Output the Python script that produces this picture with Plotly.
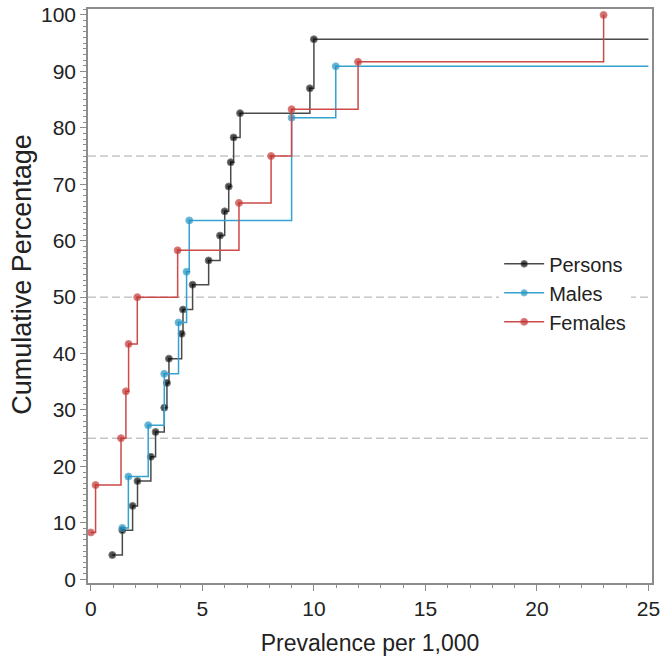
import plotly.graph_objects as go

# ---- data ----
persons_x = [0.96, 1.41, 1.87, 2.09, 2.69, 2.90, 3.29, 3.41, 3.50, 4.07, 4.13,
             4.56, 5.28, 5.79, 6.00, 6.18, 6.27, 6.40, 6.69, 9.82, 10.0]
persons_y = [4.3, 8.7, 13.0, 17.4, 21.7, 26.1, 30.4, 34.8, 39.1, 43.5, 47.8,
             52.2, 56.5, 60.9, 65.2, 69.6, 73.9, 78.3, 82.6, 87.0, 95.7]

males_x = [1.41, 1.68, 2.57, 3.29, 3.93, 4.29, 4.41, 9.0, 10.98]
males_y = [9.1, 18.2, 27.3, 36.4, 45.5, 54.5, 63.6, 81.8, 90.9]

females_x = [0.0, 0.21, 1.35, 1.57, 1.69, 2.08, 3.89, 6.64, 8.08, 9.0, 11.98, 22.99]
females_y = [8.3, 16.7, 25.0, 33.3, 41.7, 50.0, 58.3, 66.7, 75.0, 83.3, 91.7, 100.0]

x_end = 25          # persons/males step lines continue to the axis end
ref_lines = [25, 50, 75]
x_ticks = [0, 5, 10, 15, 20, 25]
y_ticks = [0, 10, 20, 30, 40, 50, 60, 70, 80, 90, 100]

FONT = "Liberation Sans, Arial, sans-serif"

fig = go.Figure()

def step_trace(name, xs, ys, line_color, marker_color, extend):
    x = list(xs)
    y = list(ys)
    sizes = [7] * len(x)
    if extend:
        x.append(x_end)
        y.append(ys[-1])
        sizes.append(0)
    return go.Scatter(
        x=x, y=y, name=name, mode="lines+markers",
        line=dict(shape="hv", color=line_color, width=1.5),
        marker=dict(size=sizes, color=marker_color),
    )

fig.add_trace(step_trace("Persons", persons_x, persons_y, "#4a4a4a", "#000000", True))
fig.add_trace(step_trace("Males", males_x, males_y, "#35a2d0", "#1e90c0", True))
fig.add_trace(step_trace("Females", females_x, females_y, "#cc4a48", "#c0302e", False))

for r in ref_lines:
    fig.add_shape(type="line", xref="paper", x0=0, x1=1, yref="y", y0=r, y1=r,
                  line=dict(color="#a8a8a8", width=1, dash="8px,4px"), layer="below")

axis_common = dict(
    showline=True, linecolor="#8c8c8c", linewidth=1.5, mirror=True,
    showgrid=False, zeroline=False, automargin=False,
    ticks="outside", ticklen=6, tickcolor="#8c8c8c", tickwidth=1,
    tickfont=dict(family=FONT, size=21, color="#222222"),
    ticklabeloverflow="allow",
)

fig.update_xaxes(
    range=[-0.13, 25.16], tickvals=x_ticks,
    minor=dict(dtick=1, ticks="outside", ticklen=3, tickcolor="#8c8c8c"),
    title=dict(text="Prevalence per 1,000", font=dict(family=FONT, size=23, color="#222222"),
               standoff=16),
    **axis_common,
)
fig.update_yaxes(
    range=[-0.66, 101.06], tickvals=y_ticks,
    minor=dict(dtick=1, ticks="outside", ticklen=3, tickcolor="#8c8c8c"),
    **axis_common,
)

# y-axis title placed as in the reference (slightly above the axis centre)
fig.add_annotation(text="Cumulative Percentage", textangle=-90,
                   xref="paper", yref="paper", x=0, y=0.537,
                   xanchor="center", yanchor="middle", xshift=-66,
                   showarrow=False,
                   font=dict(family=FONT, size=27, color="#222222"))

fig.update_layout(
    width=660, height=663,
    margin=dict(l=88, r=8, t=9, b=80),
    plot_bgcolor="white", paper_bgcolor="white",
    legend=dict(x=0.729, y=0.59, xanchor="left", yanchor="top",
                bgcolor="white", font=dict(family=FONT, size=20, color="#222222"),
                tracegroupgap=0, itemwidth=40),
)

# remove the default 8px page margin so the figure fills the window exactly
fig.write_html("out.html",
               config={"displayModeBar": False},
               post_script="document.body.style.margin='0';document.body.style.overflow='hidden';")
